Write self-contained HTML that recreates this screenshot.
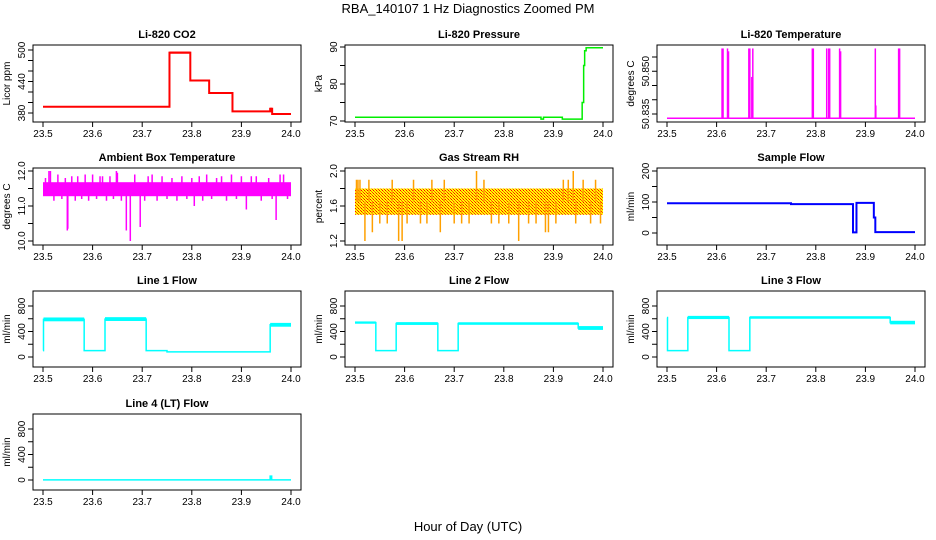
<!DOCTYPE html>
<html><head><meta charset="utf-8"><style>
body{margin:0;background:#fff;}
svg{display:block;font-family:"Liberation Sans",Arial,sans-serif;}
</style></head><body>
<svg id="c" width="936" height="540" viewBox="0 0 936 540" xmlns="http://www.w3.org/2000/svg">
<defs>
<pattern id="rhpat" width="3" height="3" patternUnits="userSpaceOnUse">
<rect width="3" height="3" fill="#ffff00"/><rect x="0" y="0" width="1" height="1" fill="#ff3000"/><rect x="2" y="2" width="1" height="1" fill="#ff6000"/><rect x="1" y="1" width="1" height="1" fill="#ff0000"/>
</pattern>
</defs>
<text x="468" y="13" text-anchor="middle" font-size="13">RBA_140107  1 Hz Diagnostics Zoomed PM</text>
<text x="468" y="531" text-anchor="middle" font-size="13">Hour of Day (UTC)</text>
</svg>
<script>
// ---- data ----
const xTicks = [23.5, 23.6, 23.7, 23.8, 23.9, 24.0];
const xTickLabels = ["23.5","23.6","23.7","23.8","23.9","24.0"];

const co2T = [23.5, 23.755, 23.797, 23.835, 23.882, 23.958, 23.962];
const co2V = [392, 495, 442, 418, 383, 388, 378];
const co2S = [1, 2, 1, 1, 1, 2, 1];

const presT = [23.5, 23.875, 23.88, 23.918, 23.958, 23.961, 23.963, 23.966];
const presV = [71, 70.5, 71, 70.5, 75, 85, 89, 89.8];

const tempBase = 50.8335;
const tempSpikeT = [23.611, 23.613, 23.622, 23.624, 23.665, 23.667, 23.671, 23.673, 23.793, 23.795, 23.822, 23.826, 23.828, 23.848, 23.850, 23.920, 23.921, 23.967, 23.969];
const tempSpikeV = [50.858, 50.858, 50.858, 50.857, 50.858, 50.858, 50.848, 50.858, 50.858, 50.858, 50.858, 50.858, 50.858, 50.858, 50.857, 50.858, 50.838, 50.858, 50.858];

const ambLo = 11.28, ambHi = 11.68;
const ambSpikeT = [23.505, 23.512, 23.515, 23.522, 23.53, 23.538, 23.545, 23.549, 23.55, 23.558, 23.565, 23.57, 23.578, 23.585, 23.592, 23.6, 23.608, 23.615, 23.62, 23.628, 23.635, 23.642, 23.648, 23.65, 23.658, 23.668, 23.676, 23.685, 23.696, 23.705, 23.712, 23.72, 23.73, 23.74, 23.75, 23.76, 23.77, 23.78, 23.79, 23.8, 23.805, 23.815, 23.822, 23.83, 23.84, 23.85, 23.86, 23.87, 23.88, 23.89, 23.9, 23.91, 23.92, 23.93, 23.94, 23.955, 23.962, 23.97, 23.978, 23.985, 23.993];
const ambSpikeV = [11.8, 12.0, 12.0, 11.15, 11.9, 11.2, 11.8, 10.3, 10.35, 11.85, 11.15, 11.85, 11.2, 11.9, 11.15, 11.9, 11.2, 11.85, 11.85, 11.15, 11.85, 11.2, 12.0, 11.95, 11.15, 10.3, 10.0, 11.9, 10.4, 11.15, 11.85, 11.9, 11.15, 11.85, 11.2, 11.8, 11.15, 11.85, 11.2, 11.8, 11.0, 11.85, 11.15, 11.9, 11.2, 11.8, 11.85, 11.15, 11.9, 11.2, 11.85, 10.9, 11.85, 11.85, 11.15, 11.8, 11.2, 10.6, 11.9, 11.9, 11.2];

const rhLo = 1.5, rhHi = 1.8;
const rhSpikeT = [23.503, 23.506, 23.51, 23.52, 23.528, 23.535, 23.55, 23.565, 23.575, 23.588, 23.595, 23.605, 23.618, 23.632, 23.645, 23.655, 23.672, 23.68, 23.7, 23.715, 23.73, 23.745, 23.76, 23.775, 23.79, 23.81, 23.83, 23.85, 23.865, 23.884, 23.89, 23.905, 23.92, 23.93, 23.94, 23.945, 23.96, 23.975, 23.985, 23.995];
const rhSpikeV = [1.9, 1.9, 1.9, 1.2, 1.9, 1.3, 1.4, 1.4, 1.9, 1.2, 1.2, 1.4, 1.9, 1.4, 1.4, 1.9, 1.3, 1.9, 1.4, 1.4, 1.4, 2.0, 1.9, 1.4, 1.4, 1.4, 1.2, 1.4, 1.4, 1.3, 1.3, 1.4, 1.9, 1.9, 2.0, 1.4, 1.9, 1.4, 1.9, 1.4];

const sampT = [23.5, 23.75, 23.875, 23.882, 23.917, 23.92];
const sampV = [96, 93, 2, 97, 50, 3];

const l1T = [23.5, 23.501, 23.583, 23.625, 23.708, 23.75, 23.958];
const l1V = [100, 590, 100, 595, 100, 80, 505];
const l1S = [0, 30, 4, 30, 4, 4, 30];

const l2T = [23.5, 23.542, 23.583, 23.667, 23.708, 23.95];
const l2V = [540, 100, 525, 100, 525, 455];
const l2S = [18, 3, 22, 3, 20, 30];

const l3T = [23.5, 23.501, 23.542, 23.625, 23.667, 23.95];
const l3V = [620, 100, 620, 100, 620, 540];
const l3S = [0, 4, 25, 4, 20, 28];

const l4T = [23.5, 23.958, 23.961];
const l4V = [2, 60, 2];
const l4S = [2, 0, 2];

// ---- layout ----
const NS = "http://www.w3.org/2000/svg";
const svg = document.getElementById("c");
const colX0 = [43, 355, 667];
const rowTop = [45, 168, 291, 414];
const rowBot = [122, 245, 367, 490];
function mk(tag, attrs, parent) {
  const e = document.createElementNS(NS, tag);
  for (const k in attrs) e.setAttribute(k, attrs[k]);
  (parent || svg).appendChild(e);
  return e;
}
function panel(col, row, title, ylab, yref, ticks, labels, name) {
  const g = mk("g", {});
  
  
  const x0 = colX0[col], top = rowTop[row], bot = rowBot[row];
  const X = t => x0 + (t - 23.5) / 0.5 * 248;
  const Y = v => yref[1] + (v - yref[0]) / (yref[2] - yref[0]) * (yref[3] - yref[1]);
  const L = x0 - 10, R = x0 + 258;
  const t = mk("text", {x: (L + R) / 2, y: top - 7, "text-anchor": "middle", "font-size": 11, "font-weight": "bold"}, g);
  t.textContent = title;
  
  
  const yl = mk("text", {x: 0, y: 0, transform: `translate(${L - 23},${(top + bot) / 2}) rotate(-90)`, "text-anchor": "middle", "font-size": 10}, g);
  yl.textContent = ylab;
  
  
  const xa = mk("g", {}, g);
  
  
  xTicks.forEach((v, i) => {
    mk("line", {x1: X(v), x2: X(v), y1: bot, y2: bot + 5, stroke: "#000"}, xa);
    const tl = mk("text", {x: X(v), y: bot + 15, "text-anchor": "middle", "font-size": 10}, xa);
    tl.textContent = xTickLabels[i];
  });
  const ya = mk("g", {}, g);
  
  
  ticks.forEach((v, i) => {
    mk("line", {x1: L - 5, x2: L, y1: Y(v), y2: Y(v), stroke: "#000"}, ya);
    if (labels[i]) {
      const tl = mk("text", {x: 0, y: 0, transform: `translate(${L - 8},${Y(v)}) rotate(-90)`, "text-anchor": "middle", "font-size": 10}, ya);
      tl.textContent = labels[i];
    }
  });
  const data = mk("g", {}, g);
  
  
  const box = mk("rect", {x: L, y: top, width: R - L, height: bot - top, fill: "none", stroke: "#000"}, g);
  
  
  return {X, Y, g: data};
}
function steps(p, T, V, S, color, w) {
  let d = "";
  for (let i = 0; i < T.length; i++) {
    const t1 = i + 1 < T.length ? T[i + 1] : 24.0;
    d += (i === 0 ? "M" : "L") + p.X(T[i]) + "," + p.Y(V[i]) + "L" + p.X(t1) + "," + p.Y(V[i]);
    if (S && S[i] > 0) {
      const r = mk("rect", {x: p.X(T[i]), y: p.Y(V[i] + S[i]), width: p.X(t1) - p.X(T[i]), height: Math.abs(p.Y(V[i] - S[i]) - p.Y(V[i] + S[i])), fill: color}, p.g);
      
      
    }
  }
  const path = mk("path", {d, fill: "none", stroke: color, "stroke-width": w}, p.g);
  
  
}
function spikes(p, base, T, V, color, w) {
  T.forEach((t, i) => {
    const l = mk("line", {x1: p.X(t), x2: p.X(t), y1: p.Y(base), y2: p.Y(V[i]), stroke: color, "stroke-width": w}, p.g);
    
    
  });
}
function band(p, lo, hi, fill) {
  const r = mk("rect", {x: p.X(23.5), y: p.Y(hi), width: p.X(24) - p.X(23.5), height: p.Y(lo) - p.Y(hi), fill}, p.g);
  
  
}

let p = panel(0, 0, "Li-820 CO2", "Licor ppm", [380, 113, 500, 50], [380, 400, 420, 440, 460, 480, 500], ["380", "", "", "440", "", "", "500"], "co2");
steps(p, co2T, co2V, co2S, "#ff0000", 2);
p = panel(1, 0, "Li-820 Pressure", "kPa", [70, 121, 90, 47], [70, 75, 80, 85, 90], ["70", "", "80", "", "90"], "pressure");
steps(p, presT, presV, null, "#00ee00", 1.5);
p = panel(2, 0, "Li-820 Temperature", "degrees C", [50.835, 114, 50.855, 57], [50.835, 50.840, 50.845, 50.850, 50.855], ["50.835", "", "", "50.850", ""], "li820-temp");
steps(p, [23.5], [tempBase], null, "#ff00ff", 1.5);
spikes(p, tempBase, tempSpikeT, tempSpikeV, "#ff00ff", 1.5);
p = panel(0, 1, "Ambient Box Temperature", "degrees C", [10, 241, 12, 171], [10, 10.5, 11, 11.5, 12], ["10.0", "", "11.0", "", "12.0"], "ambient-temp");
band(p, ambLo, ambHi, "#ff00ff");
spikes(p, 11.45, ambSpikeT, ambSpikeV, "#ff00ff", 1.5);
p = panel(1, 1, "Gas Stream RH", "percent", [1.2, 241, 2.0, 171], [1.2, 1.4, 1.6, 1.8, 2.0], ["1.2", "", "1.6", "", "2.0"], "gas-rh");
band(p, rhLo, rhHi, "url(#rhpat)");
spikes(p, 1.65, rhSpikeT, rhSpikeV, "#ffa000", 1.5);
p = panel(2, 1, "Sample Flow", "ml/min", [0, 233, 200, 171], [0, 50, 100, 150, 200], ["0", "", "100", "", "200"], "sample-flow");
steps(p, sampT, sampV, null, "#0000ff", 2);
const fT = [0, 200, 400, 600, 800], fL = ["0", "", "400", "", "800"];
p = panel(0, 2, "Line 1 Flow", "ml/min", [0, 357, 800, 306], fT, fL, "line1-flow");
steps(p, l1T, l1V, l1S, "#00ffff", 1.5);
p = panel(1, 2, "Line 2 Flow", "ml/min", [0, 357, 800, 306], fT, fL, "line2-flow");
steps(p, l2T, l2V, l2S, "#00ffff", 1.5);
p = panel(2, 2, "Line 3 Flow", "ml/min", [0, 357, 800, 306], fT, fL, "line3-flow");
steps(p, l3T, l3V, l3S, "#00ffff", 1.5);
p = panel(0, 3, "Line 4 (LT) Flow", "ml/min", [0, 480, 800, 429], fT, fL, "line4-flow");
steps(p, l4T, l4V, l4S, "#00ffff", 1.5);
</script>
</body></html>
